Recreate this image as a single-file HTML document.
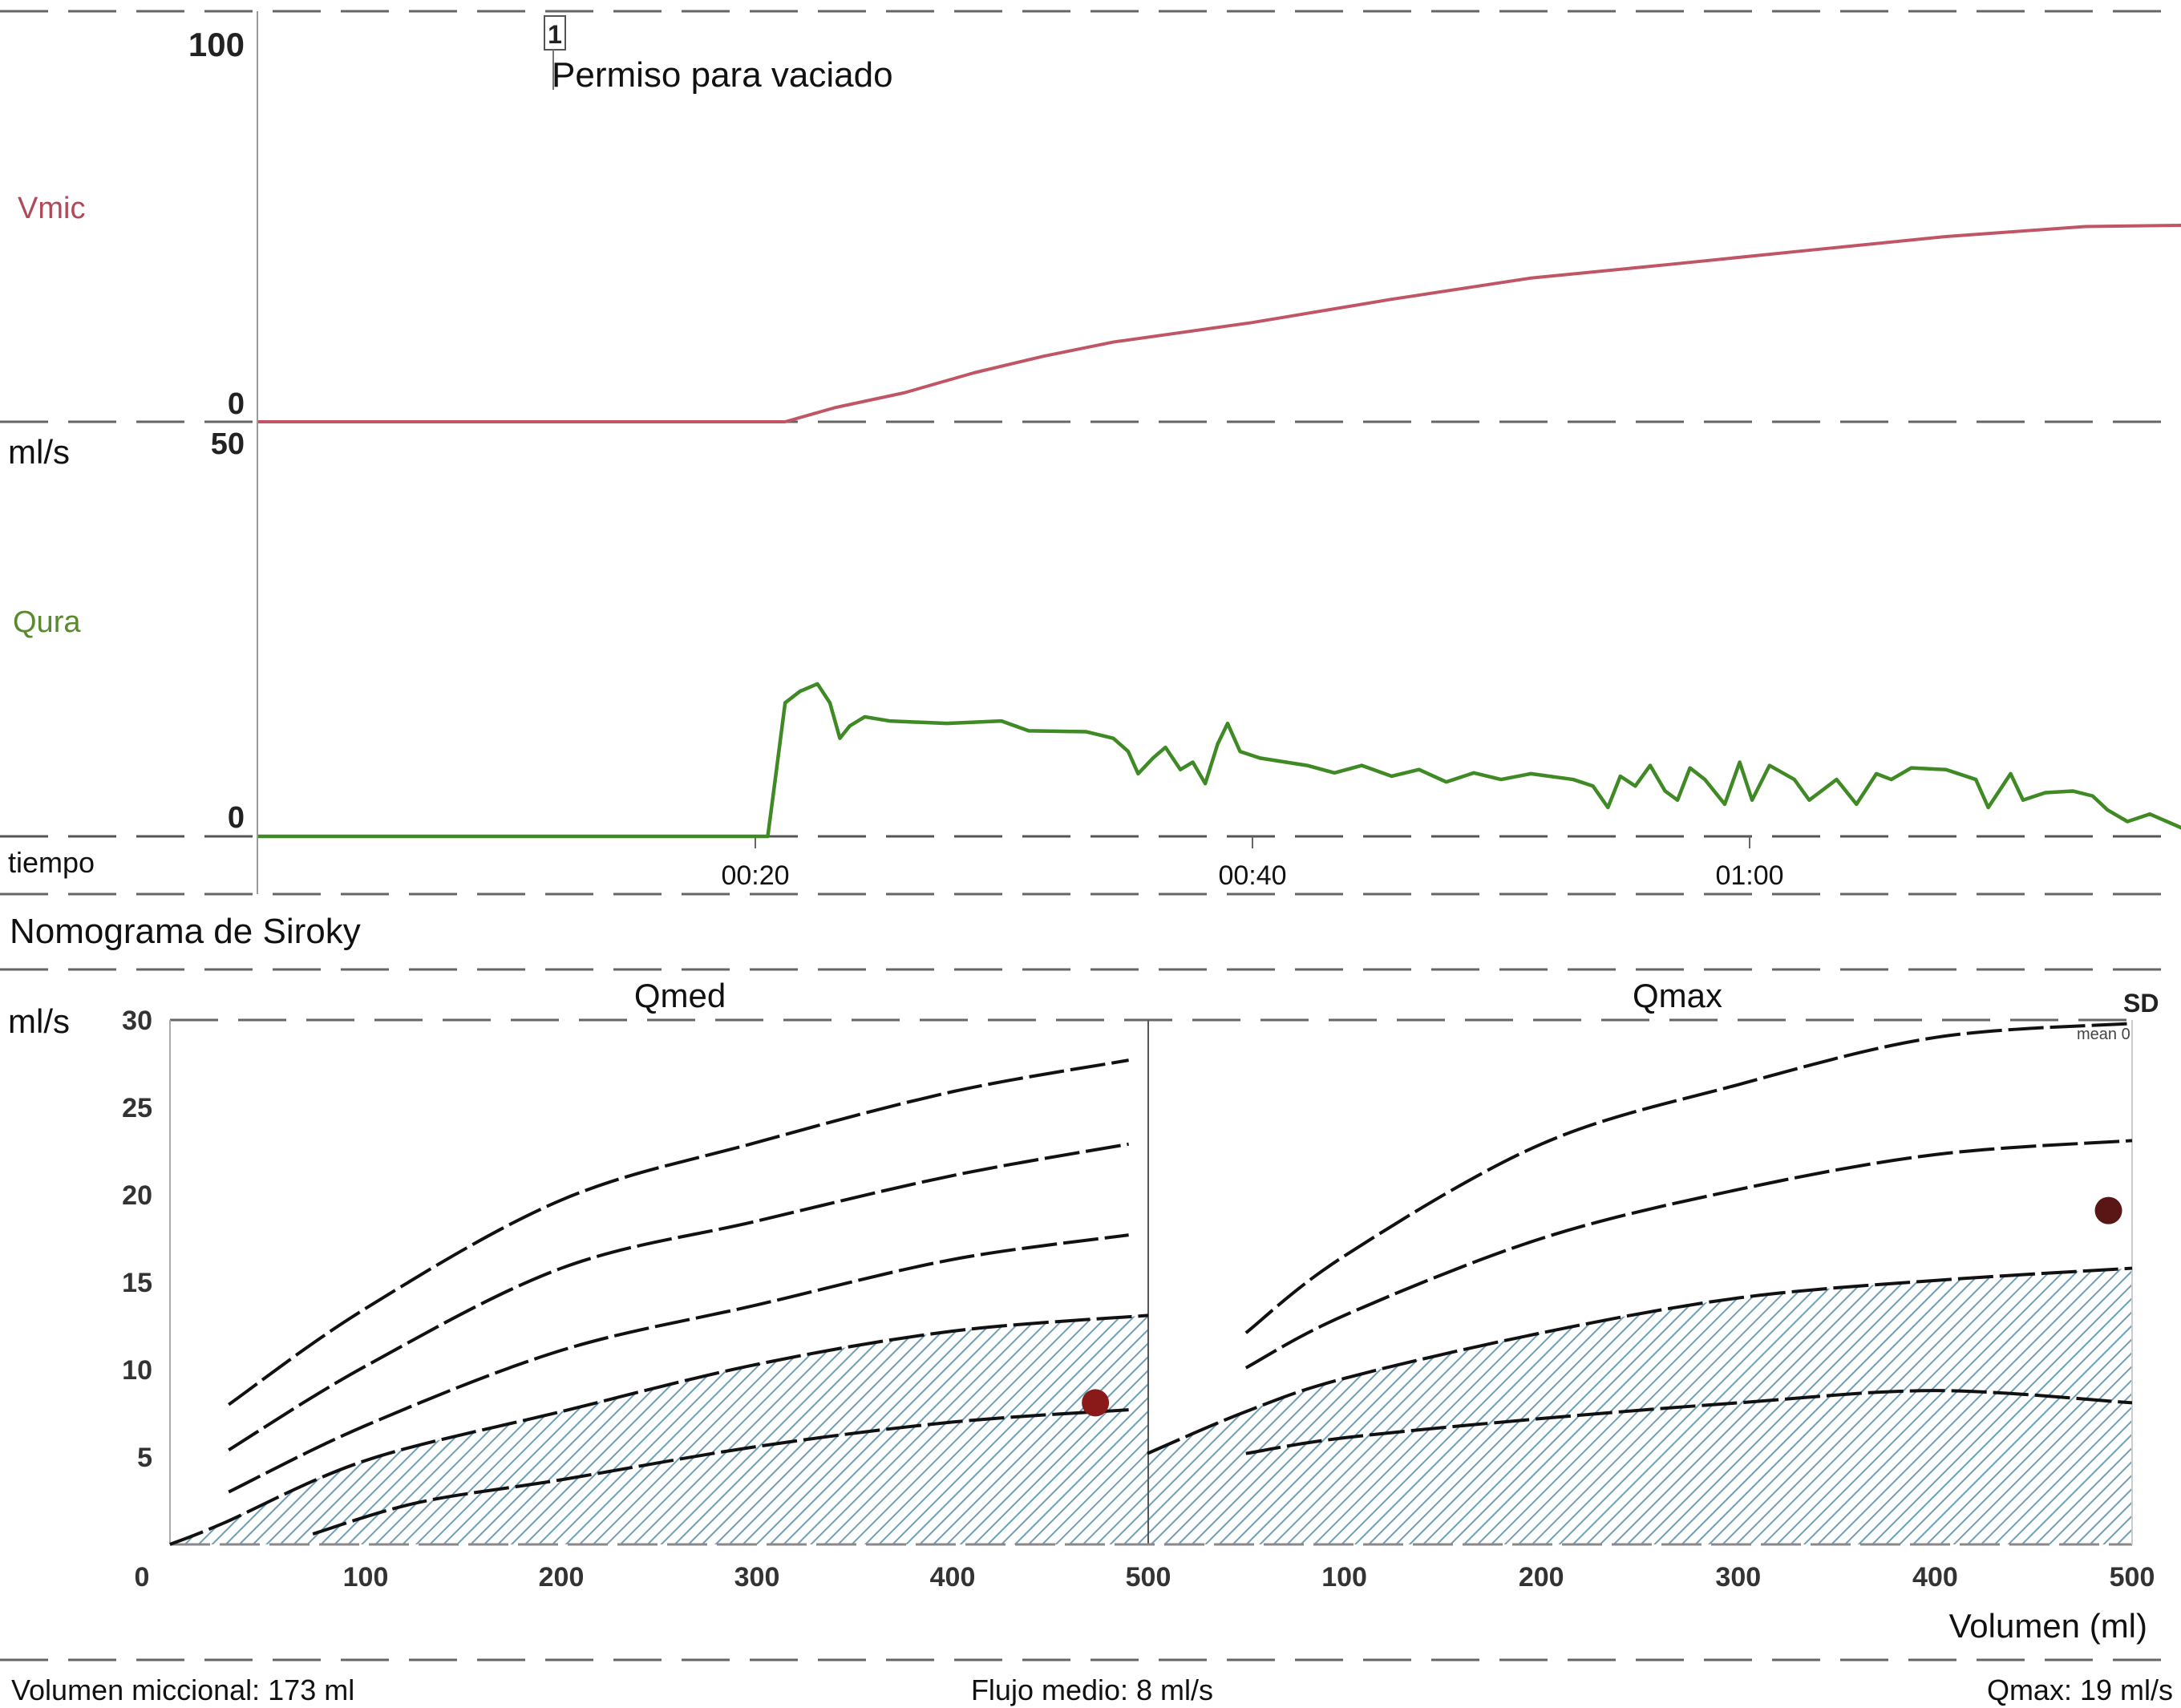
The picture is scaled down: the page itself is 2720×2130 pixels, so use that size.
<!DOCTYPE html>
<html><head><meta charset="utf-8">
<style>
html,body{margin:0;padding:0;background:#fff;}
svg{display:block;}
text{font-family:"Liberation Sans",sans-serif;}
</style></head>
<body>
<svg id="chart" width="2720" height="2130" viewBox="0 0 2720 2130" xmlns="http://www.w3.org/2000/svg">
<defs>
<pattern id="hatch" patternUnits="userSpaceOnUse" width="12" height="12" patternTransform="rotate(45)">
<rect width="12" height="12" fill="#ffffff"/>
<line x1="0" y1="0" x2="0" y2="12" stroke="#6f9fb5" stroke-width="4"/>
</pattern>
</defs>
<g id="static">
<line x1="0" y1="14" x2="2720" y2="14" stroke="#666" stroke-width="3" stroke-dasharray="60 25"/>
<line x1="0" y1="526" x2="2720" y2="526" stroke="#666" stroke-width="3" stroke-dasharray="60 25"/>
<line x1="0" y1="1043" x2="2720" y2="1043" stroke="#555" stroke-width="3" stroke-dasharray="60 25"/>
<line x1="0" y1="1115" x2="2720" y2="1115" stroke="#666" stroke-width="3" stroke-dasharray="60 25"/>
<line x1="0" y1="1209" x2="2720" y2="1209" stroke="#666" stroke-width="3" stroke-dasharray="60 25"/>
<line x1="212" y1="1272" x2="2660" y2="1272" stroke="#666" stroke-width="3" stroke-dasharray="60 25"/>
<line x1="0" y1="2070" x2="2720" y2="2070" stroke="#666" stroke-width="3" stroke-dasharray="60 25"/>
<line x1="321" y1="14" x2="321" y2="1115" stroke="#999" stroke-width="2"/>

<text x="305" y="70" font-size="42" font-weight="bold" text-anchor="end" fill="#222">100</text>
<text x="305" y="516" font-size="38" font-weight="bold" text-anchor="end" fill="#222">0</text>
<text x="305" y="566" font-size="38" font-weight="bold" text-anchor="end" fill="#222">50</text>
<text x="305" y="1032" font-size="38" font-weight="bold" text-anchor="end" fill="#222">0</text>
<text x="22" y="272" font-size="38" fill="#b04a5a">Vmic</text>
<text x="16" y="788" font-size="38" fill="#5a8a30">Qura</text>
<text x="10" y="578" font-size="42" fill="#111">ml/s</text>
<text x="10" y="1088" font-size="36" fill="#111">tiempo</text>
<rect x="679" y="20" width="26" height="42" fill="#fff" stroke="#555" stroke-width="2"/>
<text x="692" y="54" font-size="32" font-weight="bold" text-anchor="middle" fill="#222">1</text>
<line x1="690" y1="62" x2="690" y2="112" stroke="#777" stroke-width="2"/>
<text x="688" y="108" font-size="44" fill="#111">Permiso para vaciado</text>

<text x="12" y="1176" font-size="44" fill="#111">Nomograma de Siroky</text>
<text x="10" y="1288" font-size="42" fill="#111">ml/s</text>
<text x="848" y="1256" font-size="42" text-anchor="middle" fill="#111">Qmed</text>
<text x="2092" y="1256" font-size="42" text-anchor="middle" fill="#111">Qmax</text>
<text x="2648" y="1262" font-size="32" font-weight="bold" fill="#222">SD</text>
<text x="2590" y="1296" font-size="20" fill="#444">mean 0</text>
<text x="2678" y="2042" font-size="42" text-anchor="end" fill="#111">Volumen (ml)</text>
<text x="14" y="2120" font-size="36" fill="#111">Volumen miccional: 173 ml</text>
<text x="1362" y="2120" font-size="36" text-anchor="middle" fill="#111">Flujo medio: 8 ml/s</text>
<text x="2710" y="2120" font-size="36" text-anchor="end" fill="#111">Qmax: 19 ml/s</text>
</g>
<g id="dyn"></g>
</svg>
<script>
const timeTicks = [20, 40, 60];
const timeTickLabels = ["00:20", "00:40", "01:00"];
const vmicT = [0, 21.2, 23.2, 26, 28.8, 31.6, 34.4, 40, 45.6, 51.2, 56.8, 62.4, 67.9, 73.5, 77.4];
const vmicV = [0, 0, 3.4, 7, 11.8, 15.8, 19.2, 23.9, 29.5, 34.6, 37.9, 41.3, 44.6, 47, 47.3];
const quraT = [0,20.5,20.8,21.2,21.8,22.5,23,23.4,23.8,24.4,25.4,27.7,29.9,31,33.3,34.4,35,35.4,36,36.5,37.1,37.6,38.1,38.6,39,39.5,40.3,42.2,43.3,44.4,45.6,46.7,47.8,48.9,50,51.2,52.9,53.7,54.3,54.8,55.4,56,56.6,57.1,57.6,58.2,59,59.6,60.1,60.8,61.8,62.4,63.5,64.3,65.1,65.7,66.5,67.9,69.1,69.6,70.5,71,71.9,73,73.8,74.4,75.2,76.1,77.4];
const quraV = [0,0,6.9,16.2,17.6,18.5,16.2,11.9,13.4,14.5,14,13.7,14,12.8,12.7,11.9,10.3,7.6,9.5,10.8,8.1,9,6.4,11.2,13.7,10.3,9.5,8.6,7.7,8.6,7.3,8.1,6.6,7.7,6.9,7.6,6.9,6.1,3.5,7.3,6.1,8.6,5.5,4.4,8.3,6.9,3.9,9,4.4,8.6,6.9,4.4,6.9,3.9,7.6,6.9,8.3,8.1,6.9,3.5,7.6,4.4,5.3,5.5,4.9,3.2,1.8,2.7,1];

const volTicks = [0, 100, 200, 300, 400, 500];
const volTickLabels = ["0", "100", "200", "300", "400", "500"];
const flowTicks = [5, 10, 15, 20, 25, 30];
const flowTickLabels = ["5", "10", "15", "20", "25", "30"];

const qmedVol = [30, 100, 200, 300, 400, 490];
const qmedPlus2 = [8, 13.5, 19.7, 23, 25.9, 27.7];
const qmedPlus1 = [5.4, 10.2, 15.8, 18.5, 21.1, 22.9];
const qmedMean = [3, 6.8, 11.1, 13.7, 16.3, 17.7];
const qmedMinus1Vol = [0, 27, 100, 200, 300, 400, 500];
const qmedMinus1 = [0, 1.2, 4.8, 7.6, 10.3, 12.2, 13.1];
const qmedMinus2Vol = [73, 127, 200, 300, 400, 490];
const qmedMinus2 = [0.6, 2.4, 3.7, 5.6, 7, 7.7];

const qmaxVol = [50, 100, 200, 300, 400, 500];
const qmaxMean = [12.1, 16.5, 22.9, 26.3, 29, 29.8];
const qmaxMinus1 = [10.1, 13.1, 17.5, 20.3, 22.3, 23.1];
const qmaxMinus2Vol = [0, 50, 100, 200, 300, 400, 500];
const qmaxMinus2 = [5.2, 7.6, 9.5, 12.1, 14.1, 15.1, 15.8];
const qmaxMinus3 = [5.2, 6.1, 7.2, 8.1, 8.8, 8.1];

const qmedPoint = [473, 8.1];
const qmaxPoint = [488, 19.1];

const NS = "http://www.w3.org/2000/svg";
const dyn = document.getElementById("dyn");
function mk(tag, attrs) { const e = document.createElementNS(NS, tag); for (const k in attrs) e.setAttribute(k, attrs[k]); dyn.appendChild(e); return e; }

const xT = t => 322 + t * 31;
const yVmic = v => 526 - v * 5.18;
const yQura = v => 1043 - v * 10.28;
const xL = v => 212 + v * 2.44;
const xR = v => 1431 + v * 2.456;
const yN = q => 1926 - q * 21.8;

function smooth(pts) {
  let d = "M" + pts[0][0] + "," + pts[0][1];
  for (let i = 0; i < pts.length - 1; i++) {
    const p0 = pts[Math.max(0, i - 1)], p1 = pts[i], p2 = pts[i + 1], p3 = pts[Math.min(pts.length - 1, i + 2)];
    const c1x = p1[0] + (p2[0] - p0[0]) / 6, c1y = p1[1] + (p2[1] - p0[1]) / 6;
    const c2x = p2[0] - (p3[0] - p1[0]) / 6, c2y = p2[1] - (p3[1] - p1[1]) / 6;
    d += " C" + c1x + "," + c1y + " " + c2x + "," + c2y + " " + p2[0] + "," + p2[1];
  }
  return d;
}
function linear(pts) { return "M" + pts.map(p => p[0] + "," + p[1]).join(" L"); }

for (let i = 0; i < timeTicks.length; i++) {
  const tk = mk("line", {x1: xT(timeTicks[i]), y1: 1043, x2: xT(timeTicks[i]), y2: 1058, stroke: "#666", "stroke-width": 2});
  
  
  const tl = mk("text", {x: xT(timeTicks[i]), y: 1103, "font-size": 34, "text-anchor": "middle", fill: "#111"});
  tl.textContent = timeTickLabels[i];
  
  
}

const vp = vmicT.map((t, i) => [xT(t), yVmic(vmicV[i])]);
const vl = mk("path", {d: linear(vp), fill: "none", stroke: "#c05565", "stroke-width": 4, "stroke-linejoin": "round"});



const qp = quraT.map((t, i) => [xT(t), yQura(quraV[i])]);
const ql = mk("path", {d: linear(qp), fill: "none", stroke: "#3f8a25", "stroke-width": 4.5, "stroke-linejoin": "round"});



const lShade = qmedMinus1Vol.map((v, i) => [xL(v), yN(qmedMinus1[i])]);
const ls = mk("path", {d: smooth(lShade) + " L" + xL(500) + "," + yN(0) + " Z", fill: "url(#hatch)", stroke: "none"});


const rPts = qmaxMinus2Vol.map((v, i) => [xR(v), yN(qmaxMinus2[i])]);
const rs = mk("path", {d: "M" + xR(0) + "," + yN(0) + " L" + rPts[0][0] + "," + rPts[0][1] + smooth(rPts).replace(/^M[^ ]+/, "") + " L" + xR(500) + "," + yN(0) + " Z", fill: "url(#hatch)", stroke: "none"});



const la = mk("line", {x1: xL(0), y1: yN(30), x2: xL(0), y2: yN(0), stroke: "#aaa", "stroke-width": 2});


const dv = mk("line", {x1: xL(500), y1: yN(30), x2: xL(500), y2: yN(0), stroke: "#555", "stroke-width": 2});


const xa = mk("line", {x1: xL(0), y1: yN(0), x2: xR(500), y2: yN(0), stroke: "#888", "stroke-width": 3, "stroke-dasharray": "50 12"});


const ra = mk("line", {x1: xR(500), y1: yN(30), x2: xR(500), y2: yN(0), stroke: "#ccc", "stroke-width": 2});



for (let i = 0; i < flowTicks.length; i++) {
  const t = mk("text", {x: 190, y: yN(flowTicks[i]) + 12, "font-size": 34, "font-weight": "bold", "text-anchor": "end", fill: "#333"});
  t.textContent = flowTickLabels[i];
  
  
}
for (let i = 0; i < volTicks.length; i++) {
  const a = mk("text", {x: xL(volTicks[i]) - (i === 0 ? 35 : 0), y: 1978, "font-size": 34, "font-weight": "bold", "text-anchor": "middle", fill: "#333"});
  a.textContent = volTickLabels[i];
  
  
  if (i > 0) {
    const b = mk("text", {x: xR(volTicks[i]), y: 1978, "font-size": 34, "font-weight": "bold", "text-anchor": "middle", fill: "#333"});
    b.textContent = volTickLabels[i];
    
    
  }
}

function curve(xs, ys, xf, name) {
  const pts = xs.map((v, i) => [xf(v), yN(ys[i])]);
  const p = mk("path", {d: smooth(pts), fill: "none", stroke: "#111", "stroke-width": 4, "stroke-dasharray": "44 8"});
  
  
}
curve(qmedVol, qmedPlus2, xL, 'qmed-plus2-sd-curve');
curve(qmedVol, qmedPlus1, xL, 'qmed-plus1-sd-curve');
curve(qmedVol, qmedMean, xL, 'qmed-mean-curve');
curve(qmedMinus1Vol, qmedMinus1, xL, 'qmed-minus1-sd-curve');
curve(qmedMinus2Vol, qmedMinus2, xL, 'qmed-minus2-sd-curve');
curve(qmaxVol, qmaxMean, xR, 'qmax-mean-curve');
curve(qmaxVol, qmaxMinus1, xR, 'qmax-minus1-sd-curve');
curve(qmaxMinus2Vol, qmaxMinus2, xR, 'qmax-minus2-sd-curve');
curve(qmaxVol, qmaxMinus3, xR, 'qmax-minus3-sd-curve');

const d1 = mk("circle", {cx: xL(qmedPoint[0]), cy: yN(qmedPoint[1]), r: 17, fill: "#8a1a1a"});


const d2 = mk("circle", {cx: xR(qmaxPoint[0]), cy: yN(qmaxPoint[1]), r: 17, fill: "#5a1515"});


</script>
</body></html>
